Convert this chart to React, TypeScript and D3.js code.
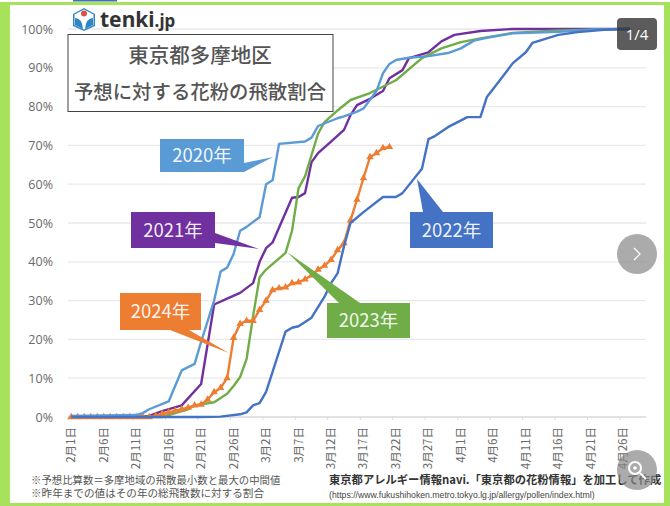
import React from "react";
import * as d3 from "d3";

const monthDays: [number, number][] = [[2, 29], [3, 31], [4, 29]];
const categories: string[] = monthDays.flatMap(([m, n]) => d3.range(1, n + 1).map((d) => `${m}月${d}日`));
const yTicks = [0, 10, 20, 30, 40, 50, 60, 70, 80, 90, 100];

const days2020 = [0, 10, 11, 12, 15, 17, 19, 20, 22, 23, 24, 25, 26, 27, 29, 30, 31, 32, 36, 37, 38, 41, 42, 44, 45, 47, 48, 49, 50, 52, 55, 58, 60, 62, 64, 68, 75, 80, 85, 86];
const vals2020 = [0.3, 0.5, 1, 2, 4, 12, 13.7, 19.4, 30, 37.5, 38.5, 42, 48, 49, 51.5, 60, 61, 70.4, 71, 72, 75, 77, 77.5, 78.7, 79.5, 84, 88.6, 91, 92, 92.6, 93, 93.8, 95, 97, 97.7, 98.9, 99.3, 99.8, 100, 100];

const days2021 = [0, 10, 12, 14, 17, 20, 22, 24, 26, 28, 29, 30, 31, 34, 35, 36, 37, 38, 40, 42, 43, 44, 46, 48, 49, 51, 52, 55, 57, 59, 63, 68, 86];
const vals2021 = [0, 0, 0.3, 1.5, 3, 8.5, 29, 30.5, 32, 34.5, 40, 43.5, 45, 56.5, 56.7, 57.7, 65.7, 68, 71, 74, 77.8, 80.4, 82, 84, 87.3, 89.4, 92.5, 94, 96.8, 98.5, 99.5, 100, 100];

const days2022 = [0, 20, 23, 26, 27, 28, 29, 30, 31, 33, 34, 35, 37, 39, 40, 41, 42, 43, 45, 48, 50, 51, 54, 55, 56, 58, 61, 63, 64, 66, 68, 70, 71, 75, 78, 82, 85, 86];
const vals2022 = [0, 0, 0.1, 0.7, 1.2, 3, 3.6, 6.5, 11.6, 22, 23, 23.4, 25.6, 31, 34.5, 37, 44, 50, 52.8, 56.7, 56.7, 57.7, 64, 71.6, 72.4, 74.7, 77.3, 77.3, 82.5, 86.8, 91.2, 94, 96.4, 98.5, 99.2, 99.8, 100, 100];

const days2023 = [0, 14, 16, 18, 19, 22, 24, 25, 26, 27, 28, 29, 30, 33, 34, 35, 36, 38, 39, 41, 43, 46, 50, 54, 57, 60, 63, 68, 75, 85, 86];
const vals2023 = [0, 0, 1, 2, 3, 3.8, 6, 8, 10.3, 15, 26, 36, 38, 42.3, 48, 59, 62, 73, 76, 79, 81.7, 83.5, 86.8, 92.5, 95, 96.6, 97.6, 99, 99.6, 100, 100];

const vals2024 = [0, 0, 0, 0, 0, 0, 0, 0, 0, 0, 0, 0, 0, 0.3, 0.8, 1.2, 1.6, 2, 2.4, 3, 3.2, 4.5, 6.4, 7.5, 10, 20.4, 24, 24.8, 24.8, 27.6, 30, 32.7, 33.2, 33.4, 34.5, 34.7, 35.5, 36.5, 38, 39, 40.5, 43, 44.8, 50.7, 56, 61.6, 67, 68, 69.3, 69.6];

const COLORS: Record<string, string> = { "2020": "#5B9BD5", "2021": "#7030A0", "2022": "#4472C4", "2023": "#70AD47", "2024": "#ED7D31" };
const JP = "'Noto Sans CJK JP', 'Noto Sans', sans-serif";

const x = d3.scaleBand<string>().domain(categories).range([68, 646]);
const y = d3.scaleLinear().domain([0, 100]).range([417, 29]);
const cx = (i: number) => (x(categories[i]) as number) + x.bandwidth() / 2;
const line = d3.line<[number, number]>().x((d) => cx(d[0])).y((d) => y(d[1]));
const zip = (ds: number[], vs: number[]) => ds.map((d, i) => [d, vs[i]] as [number, number]);

const series: [string, [number, number][]][] = [
  ["2021", zip(days2021, vals2021)],
  ["2023", zip(days2023, vals2023)],
  ["2024", vals2024.map((v, i) => [i, v] as [number, number])],
  ["2020", zip(days2020, vals2020)],
  ["2022", zip(days2022, vals2022)],
];

const callouts = [
  { year: "2020", box: [160, 139, 84, 33], tail: "244,163 273,157 244,172" },
  { year: "2021", box: [131, 212, 84, 36], tail: "215,233 259,249 215,243" },
  { year: "2024", box: [120, 293, 81, 37], tail: "170,330 229,353 189,330" },
  { year: "2023", box: [327, 303, 83, 35], tail: "287,252 360,303 339,303" },
  { year: "2022", box: [410, 212, 83, 36], tail: "417,179 443,212 423,212" },
];

export default function App() {
  return (
    <svg width={670} height={506} style={{ position: "fixed", left: 0, top: 0, display: "block", background: "#fff" }} fontFamily={JP}>
      {/* frame */}
      <rect x={73} y={0} width={44} height={1.5} fill="#3f6fb5" />
      <rect x={0} y={2} width={670} height={3} fill="#A6E35A" />
      <rect x={0} y={2} width={10} height={504} fill="#A6E35A" />
      <rect x={664} y={2} width={6} height={504} fill="#A6E35A" />
      <rect x={0} y={503} width={670} height={3} fill="#A6E35A" />

      {/* grid */}
      {yTicks.map((t) => (
        <g key={t}>
          <line x1={68} x2={646} y1={y(t)} y2={y(t)} stroke={t === 0 ? "#d9d9d9" : "#e9e9e9"} strokeWidth={1.3} />
          <text x={53} y={y(t) + 4.5} textAnchor="end" fontSize={12.5} fill="#6a6a6a" fontFamily="'Open Sans', sans-serif">{t}%</text>
        </g>
      ))}
      {categories.map((c, i) =>
        i % 5 === 0 ? (
          <g key={c}>
            <line x1={x(c)} x2={x(c)} y1={417} y2={420} stroke="#d9d9d9" />
            <text transform={`translate(${cx(i) + 4},427) rotate(-90)`} textAnchor="end" fontSize={11.5} fill="#6a6a6a">{c}</text>
          </g>
        ) : null
      )}

      {/* lines */}
      {series.map(([name, pts]) => (
        <g key={name}>
          <path d={line(pts) as string} fill="none" stroke={COLORS[name]} strokeWidth={2.4} strokeLinejoin="round" />
          {name === "2024" &&
            pts.map(([i, v]) => (
              <path key={i} d={d3.symbol(d3.symbolTriangle, 24)() as string} transform={`translate(${cx(i)},${y(v)})`} fill={COLORS[name]} />
            ))}
        </g>
      ))}

      {/* callouts */}
      {callouts.map(({ year, box, tail }) => (
        <g key={year}>
          <polygon points={tail} fill={COLORS[year]} />
          <rect x={box[0]} y={box[1]} width={box[2]} height={box[3]} fill={COLORS[year]} />
          <text x={box[0] + box[2] / 2} y={box[1] + box[3] / 2 + 6.5} textAnchor="middle" fontSize={18.5} fill="#fff" fillOpacity={0.93}>{year}年</text>
        </g>
      ))}

      {/* title */}
      <rect x={68} y={34.5} width={265} height={77} fill="#fff" stroke="#444" strokeWidth={1} />
      <text x={200} y={63} textAnchor="middle" fontSize={20.5} fontWeight={500} fill="#555">東京都多摩地区</text>
      <text x={200} y={99} textAnchor="middle" fontSize={19.4} fontWeight={500} fill="#555">予想に対する花粉の飛散割合</text>

      {/* logo */}
      <polygon points="84,8 95,14 95,26 84,31 73,26 73,14" fill="#2f86c4" />
      <polygon points="84,9.5 93.5,14.5 93.5,25 84,29.5 74.5,25 74.5,14.5" fill="#fff" />
      <circle cx={84} cy={13.5} r={3} fill="#d9534a" />
      <path d="M75,18 q7,0 8,11 l-8,-4 z M93,18 q-7,0 -8,11 l8,-4 z" fill="#2f86c4" />
      <text x={100} y={27} fontSize={21} fontWeight={700} fill="#333" fontFamily="'Noto Sans', sans-serif">tenki<tspan fontSize={17}>.jp</tspan></text>

      {/* notes */}
      <rect x={27} y={470} width={270} height={30} fill="#fff" />
      <text x={31} y={484} fontSize={10.4} fill="#555">※予想比算数＝多摩地域の飛散最小数と最大の中間値</text>
      <text x={31} y={497} fontSize={10.6} fill="#555">※昨年までの値はその年の総飛散数に対する割合</text>
      <text x={329} y={484} fontSize={11.3} fontWeight={700} fill="#333">東京都アレルギー情報navi.「東京都の花粉情報」を加工して作成</text>
      <text x={329} y={498} fontSize={8.7} fill="#444" fontFamily="'Liberation Sans', sans-serif">(https://www.fukushihoken.metro.tokyo.lg.jp/allergy/pollen/index.html)</text>

      {/* gallery overlay */}
      <rect x={617} y={18} width={40} height={32} rx={4} fill="#333" fillOpacity={0.8} />
      <text x={637} y={40} textAnchor="middle" fontSize={15} fill="#fff" fontFamily="'Open Sans', sans-serif">1/4</text>
      <circle cx={637} cy={254} r={20} fill="#888" fillOpacity={0.7} />
      <path d="M634,248 l6,6 l-6,6" fill="none" stroke="#fff" strokeWidth={1.3} />
      <circle cx={637} cy={470} r={20} fill="#888" fillOpacity={0.7} />
      <circle cx={635} cy={468} r={6} fill="none" stroke="#fff" strokeWidth={2} />
      <circle cx={635} cy={468} r={1.8} fill="#fff" />
      <line x1={640} y1={473} x2={646} y2={479} stroke="#fff" strokeWidth={2} />
    </svg>
  );
}
